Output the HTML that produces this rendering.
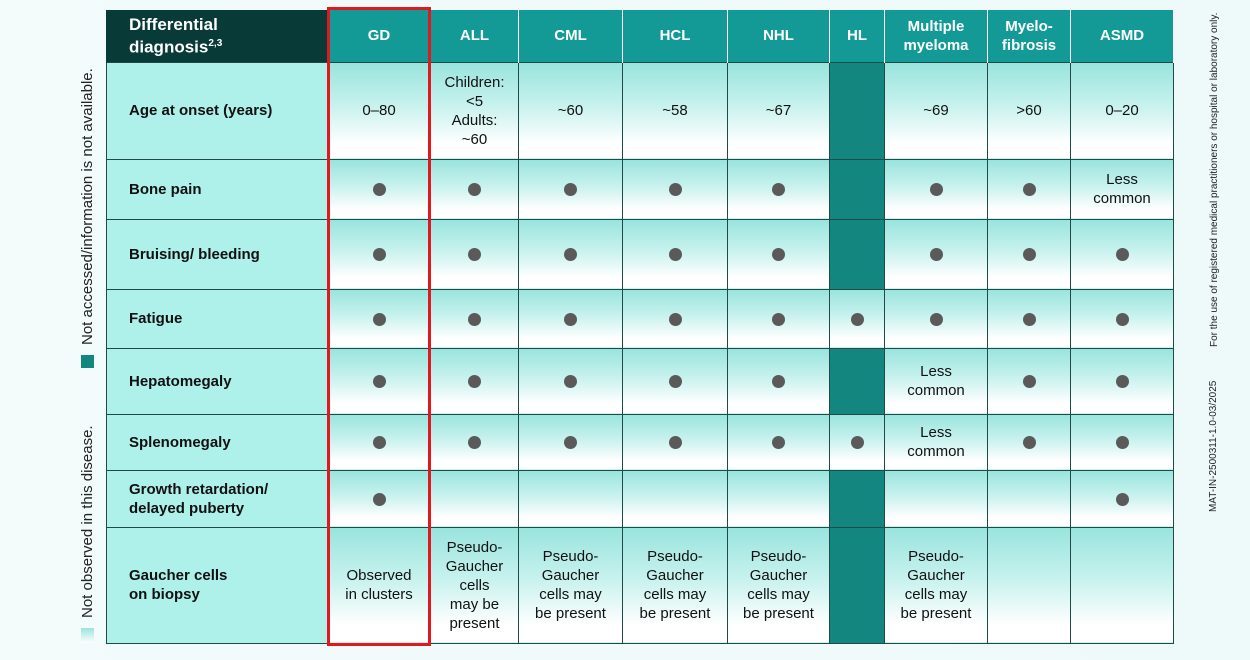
<!DOCTYPE html>
<html><head><meta charset="utf-8"><style>
*{margin:0;padding:0;box-sizing:border-box}
body{width:1250px;height:660px;background:linear-gradient(90deg,#f3fbfb,#eef9fa);position:relative;overflow:hidden;font-family:"Liberation Sans",sans-serif}
table{position:absolute;left:106px;top:10px;border-collapse:collapse;table-layout:fixed;width:1067px}
td,th{border:1.5px solid #1f4a47;text-align:center;vertical-align:middle;font-size:15px;color:#111;line-height:19px;background:linear-gradient(180deg,#99e4de 0%,#c8f2ee 45%,#ffffff 85%)}
th{background:#139a97;color:#fff;font-weight:bold;border-top:none;border-color:#fff;border-width:0 1.5px}
th.f{background:#083b38;text-align:left;padding-left:22px;font-size:17px;line-height:19px;border-left:1.5px solid #083b38}
td.f{background:#aef0ea;text-align:left;padding-left:22px;font-weight:bold}
td.d{background:#13877f}
.dot{display:inline-block;width:13px;height:13px;border-radius:50%;background:#5a5a5a;vertical-align:middle}
.red{position:absolute;left:327px;top:7px;width:104px;height:639px;border:3px solid #e0191f}
.v{position:absolute;white-space:nowrap;transform-origin:0 0;transform:rotate(-90deg);color:#222}
</style></head><body>
<table>
<colgroup><col style="width:221px"><col style="width:103px"><col style="width:88px"><col style="width:104px"><col style="width:105px"><col style="width:102px"><col style="width:55px"><col style="width:103px"><col style="width:83px"><col style="width:103px"></colgroup>
<tr style="height:52px"><th class="f">Differential<br>diagnosis<sup style="font-size:10px">2,3</sup></th><th>GD</th><th>ALL</th><th>CML</th><th>HCL</th><th>NHL</th><th>HL</th><th>Multiple<br>myeloma</th><th>Myelo-<br>fibrosis</th><th>ASMD</th></tr>
<tr style="height:97px"><td class="f">Age at onset (years)</td><td>0–80</td><td>Children:<br>&lt;5<br>Adults:<br>~60</td><td>~60</td><td>~58</td><td>~67</td><td class="d"></td><td>~69</td><td>&gt;60</td><td>0–20</td></tr>
<tr style="height:60px"><td class="f">Bone pain</td><td><span class="dot"></span></td><td><span class="dot"></span></td><td><span class="dot"></span></td><td><span class="dot"></span></td><td><span class="dot"></span></td><td class="d"></td><td><span class="dot"></span></td><td><span class="dot"></span></td><td>Less<br>common</td></tr>
<tr style="height:70px"><td class="f">Bruising/ bleeding</td><td><span class="dot"></span></td><td><span class="dot"></span></td><td><span class="dot"></span></td><td><span class="dot"></span></td><td><span class="dot"></span></td><td class="d"></td><td><span class="dot"></span></td><td><span class="dot"></span></td><td><span class="dot"></span></td></tr>
<tr style="height:59px"><td class="f">Fatigue</td><td><span class="dot"></span></td><td><span class="dot"></span></td><td><span class="dot"></span></td><td><span class="dot"></span></td><td><span class="dot"></span></td><td><span class="dot"></span></td><td><span class="dot"></span></td><td><span class="dot"></span></td><td><span class="dot"></span></td></tr>
<tr style="height:66px"><td class="f">Hepatomegaly</td><td><span class="dot"></span></td><td><span class="dot"></span></td><td><span class="dot"></span></td><td><span class="dot"></span></td><td><span class="dot"></span></td><td class="d"></td><td>Less<br>common</td><td><span class="dot"></span></td><td><span class="dot"></span></td></tr>
<tr style="height:56px"><td class="f">Splenomegaly</td><td><span class="dot"></span></td><td><span class="dot"></span></td><td><span class="dot"></span></td><td><span class="dot"></span></td><td><span class="dot"></span></td><td><span class="dot"></span></td><td>Less<br>common</td><td><span class="dot"></span></td><td><span class="dot"></span></td></tr>
<tr style="height:57px"><td class="f">Growth retardation/<br>delayed puberty</td><td><span class="dot"></span></td><td></td><td></td><td></td><td></td><td class="d"></td><td></td><td></td><td><span class="dot"></span></td></tr>
<tr style="height:116px"><td class="f">Gaucher cells<br>on biopsy</td><td>Observed<br>in clusters</td><td>Pseudo-<br>Gaucher<br>cells<br>may be<br>present</td><td>Pseudo-<br>Gaucher<br>cells may<br>be present</td><td>Pseudo-<br>Gaucher<br>cells may<br>be present</td><td>Pseudo-<br>Gaucher<br>cells may<br>be present</td><td class="d"></td><td>Pseudo-<br>Gaucher<br>cells may<br>be present</td><td></td><td></td></tr>
</table>
<div class="red"></div>
<div style="position:absolute;left:81px;top:355px;width:13px;height:13px;background:#13877f"></div>
<div class="v" style="left:79px;top:345px;font-size:15px">Not accessed/information is not available.</div>
<div style="position:absolute;left:81px;top:628px;width:13px;height:15px;background:linear-gradient(180deg,#99e4de,#fff)"></div>
<div class="v" style="left:79px;top:618px;font-size:15px">Not observed in this disease.</div>
<div class="v" style="left:1209px;top:347px;font-size:10px">For the use of registered medical practitioners or hospital or laboratory only.</div>
<div class="v" style="left:1208px;top:512px;font-size:10px">MAT-IN-2500311-1.0-03/2025</div>
</body></html>
